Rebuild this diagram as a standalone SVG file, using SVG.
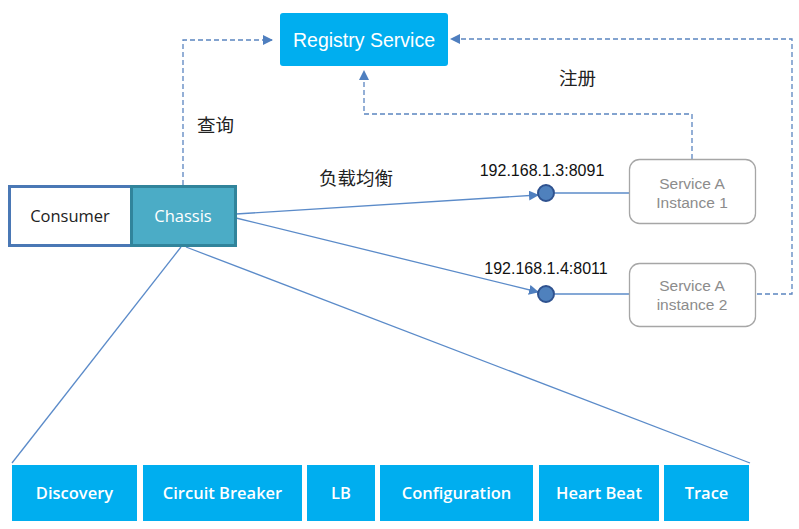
<svg xmlns="http://www.w3.org/2000/svg" width="799" height="529" viewBox="0 0 799 529">
<style>
.dash{fill:none;stroke:#5B85C0;stroke-width:1.3;stroke-dasharray:5,3}
.ln{fill:none;stroke:#5B8BC9;stroke-width:1.3}
.blue{fill:#00AEEF}
.wt{fill:#fff;font-family:"Open Sans","Noto Sans",sans-serif;font-size:16.5px;font-weight:600;text-anchor:middle}
.cn{fill:#222;font-family:"Noto Sans CJK SC",sans-serif;font-size:18.5px}
.ip{fill:#111;font-family:"Liberation Sans",Arial,sans-serif;font-size:16px;text-anchor:middle}
.svc{fill:#fff;stroke:#A6A6A6;stroke-width:1.3}
.gt{fill:#8C8C8C;font-family:"Liberation Sans",Arial,sans-serif;font-size:15.5px;text-anchor:middle}
</style>
<defs>
<marker id="ah" viewBox="0 0 10 10" refX="9" refY="5" markerWidth="10" markerHeight="10" markerUnits="userSpaceOnUse" orient="auto">
<path d="M0,0 L10,5 L0,10 z" fill="#4F7FBF"/>
</marker>
</defs>
<g id="connectors">
<path class="dash" d="M183,185 V40 H272" marker-end="url(#ah)"/>
<path class="dash" d="M757,294 H792 V39 H451" marker-end="url(#ah)"/>
<path class="dash" d="M692,159 V114 H364 V71" marker-end="url(#ah)"/>
<path class="ln" d="M236,214 L538,195" marker-end="url(#ah)"/>
<path class="ln" d="M236,218 L538,292" marker-end="url(#ah)"/>
<path class="ln" d="M555,193 H629"/>
<path class="ln" d="M555,294 H629"/>
<path class="ln" d="M181,247 L12,463"/>
<path class="ln" d="M186,247 L750,463"/>
<text class="cn" x="197" y="132">查询</text>
<text class="cn" x="559" y="85">注册</text>
<text class="cn" x="319" y="185">负载均衡</text>
<text class="ip" x="542" y="176">192.168.1.3:8091</text>
<text class="ip" x="546" y="274">192.168.1.4:8011</text>
</g>
<g id="registry">
<rect class="blue" x="280" y="13" width="168" height="53" rx="3"/>
<text x="364" y="47" fill="#fff" font-family="Liberation Sans,Arial,sans-serif" font-size="19.5" text-anchor="middle">Registry Service</text>
</g>
<g id="consumer">
<rect x="9.5" y="186.5" width="122" height="59" fill="#fff" stroke="#4A78B5" stroke-width="3"/>
<text x="70" y="222" fill="#222" font-family="Open Sans,Noto Sans,sans-serif" font-size="16.5" text-anchor="middle">Consumer</text>
</g>
<g id="chassis">
<rect x="131.5" y="186.5" width="104" height="59" fill="#4BACC6" stroke="#31849B" stroke-width="3"/>
<text x="183" y="222" fill="#fff" font-family="Open Sans,Noto Sans,sans-serif" font-size="16.5" text-anchor="middle">Chassis</text>
</g>
<g id="ep1"><circle cx="546" cy="193" r="8" fill="#4F81BD" stroke="#2F528F" stroke-width="2"/></g>
<g id="ep2"><circle cx="546" cy="294" r="8" fill="#4F81BD" stroke="#2F528F" stroke-width="2"/></g>
<g id="svc1">
<rect class="svc" x="629.5" y="159.5" width="126" height="64" rx="10"/>
<text class="gt" x="692" y="189">Service A</text>
<text class="gt" x="692" y="208">Instance 1</text>
</g>
<g id="svc2">
<rect class="svc" x="629.5" y="263.5" width="126" height="63" rx="10"/>
<text class="gt" x="692" y="291">Service A</text>
<text class="gt" x="692" y="310">instance 2</text>
</g>
<g id="discovery"><rect class="blue" x="12" y="465" width="125" height="56"/><text class="wt" x="74.5" y="499">Discovery</text></g>
<g id="circuit"><rect class="blue" x="143" y="465" width="159" height="56"/><text class="wt" x="222.5" y="499">Circuit Breaker</text></g>
<g id="lb"><rect class="blue" x="307" y="465" width="68" height="56"/><text class="wt" x="341" y="499">LB</text></g>
<g id="config"><rect class="blue" x="380" y="465" width="153" height="56"/><text class="wt" x="456.5" y="499">Configuration</text></g>
<g id="heartbeat"><rect class="blue" x="539" y="465" width="120" height="56"/><text class="wt" x="599" y="499">Heart Beat</text></g>
<g id="trace"><rect class="blue" x="664" y="465" width="85" height="56"/><text class="wt" x="706.5" y="499">Trace</text></g>
</svg>
